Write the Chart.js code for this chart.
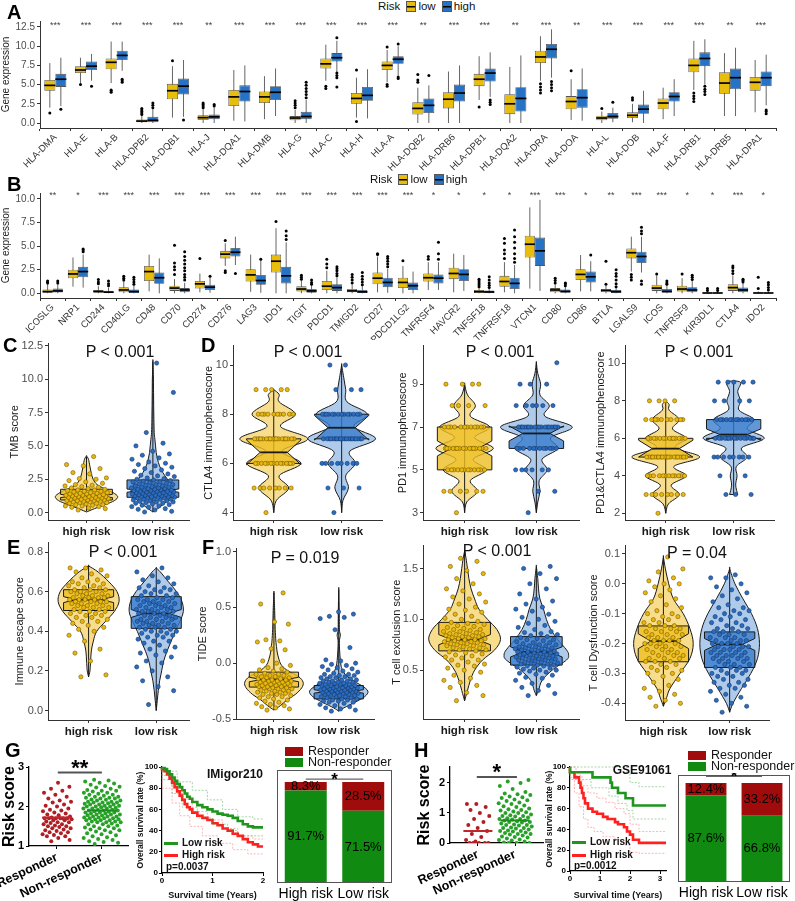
<!DOCTYPE html>
<html>
<head>
<meta charset="utf-8">
<script src="https://cdn.jsdelivr.net/npm/chart.js@4.4.1/dist/chart.umd.min.js"></script>
<style>
body{margin:0;background:#fff;}
#fig{position:relative;width:795px;height:901px;overflow:hidden;font-family:"Liberation Sans",Arial,Helvetica,sans-serif;color:#111;}
#charts{position:absolute;left:0;top:0;width:795px;height:901px;}
.t{position:absolute;white-space:nowrap;line-height:1;}
.lt{font-weight:bold;font-size:20px;color:#000;}
.p{font-size:16px;transform:translate(-50%,-50%);color:#111;}
.leg{font-size:11.5px;display:flex;align-items:center;gap:2px;color:#111;}
.key{display:inline-block;width:8px;height:9px;border:1px solid #555;margin-left:4px;}
.ky{background:linear-gradient(#000,#000) center/100% 1.5px no-repeat,#E9BD0B;}
.kb{background:linear-gradient(#000,#000) center/100% 1.5px no-repeat,#2672C4;}
.km{font-weight:bold;font-size:10px;color:#111;}
.ln{display:inline-block;width:14px;height:2.5px;vertical-align:middle;margin-right:4px;}
.kt{font-weight:bold;font-size:12px;transform:translate(-50%,-50%);}
.sl{font-size:12.5px;color:#111;}
.sw{display:inline-block;width:18px;height:9px;vertical-align:middle;margin-right:5px;}
</style>
</head>
<body>
<div id="fig">
<div id="charts"></div>
<div class="t lt" style="left:7px;top:2px">A</div>
<div class="t lt" style="left:7px;top:174px">B</div>
<div class="t lt" style="left:3px;top:335px">C</div>
<div class="t lt" style="left:201px;top:335px">D</div>
<div class="t lt" style="left:7px;top:537px">E</div>
<div class="t lt" style="left:202px;top:537px">F</div>
<div class="t lt" style="left:5px;top:740px">G</div>
<div class="t lt" style="left:414px;top:740px">H</div>

<div class="t leg" style="left:378px;top:1px">Risk<span class="key ky"></span>low<span class="key kb"></span>high</div>
<div class="t leg" style="left:370px;top:174px">Risk<span class="key ky"></span>low<span class="key kb"></span>high</div>

<div class="t p" style="left:120px;top:352px">P &lt; 0.001</div>
<div class="t p" style="left:308px;top:352px">P &lt; 0.001</div>
<div class="t p" style="left:500px;top:352px">P &lt; 0.001</div>
<div class="t p" style="left:699px;top:352px">P &lt; 0.001</div>
<div class="t p" style="left:123px;top:552px">P &lt; 0.001</div>
<div class="t p" style="left:305px;top:558px">P = 0.019</div>
<div class="t p" style="left:497px;top:551px">P &lt; 0.001</div>
<div class="t p" style="left:697px;top:553px">P = 0.04</div>

<div class="t kt" style="left:235px;top:774px">IMigor210</div>
<div class="t km" style="left:164px;top:838px"><span class="ln" style="background:#1e961e"></span>Low risk</div>
<div class="t km" style="left:164px;top:850px"><span class="ln" style="background:#ff2020"></span>High risk</div>
<div class="t km" style="left:166px;top:862px">p=0.0037</div>

<div class="t kt" style="left:642px;top:770px">GSE91061</div>
<div class="t km" style="left:572px;top:837px"><span class="ln" style="background:#1e961e"></span>Low risk</div>
<div class="t km" style="left:572px;top:850px"><span class="ln" style="background:#ff2020"></span>High risk</div>
<div class="t km" style="left:574px;top:861px">p=0.0012</div>

<div class="t sl" style="left:285px;top:745px"><span class="sw" style="background:#A00C0C"></span>Responder</div>
<div class="t sl" style="left:285px;top:756px"><span class="sw" style="background:#108A10"></span>Non-responder</div>
<div class="t sl" style="left:688px;top:749px"><span class="sw" style="background:#A00C0C"></span>Responder</div>
<div class="t sl" style="left:688px;top:760px"><span class="sw" style="background:#108A10"></span>Non-responder</div>
</div>

<script>
// ---------- data: panel A (HLA genes), stats = [min, q1, median, q3, max]
const aGenes = ['HLA-DMA','HLA-E','HLA-B','HLA-DPB2','HLA-DQB1','HLA-J','HLA-DQA1','HLA-DMB','HLA-G','HLA-C','HLA-H','HLA-A','HLA-DQB2','HLA-DRB6','HLA-DPB1','HLA-DQA2','HLA-DRA','HLA-DOA','HLA-L','HLA-DOB','HLA-F','HLA-DRB1','HLA-DRB5','HLA-DPA1'];
const aSig = ['***','***','***','***','***','**','***','***','***','***','***','***','**','***','***','**','***','**','***','***','***','***','**','***'];
const aLow = [[2.0,4.2,4.9,5.6,7.8],[5.2,6.5,6.9,7.4,8.5],[5.2,7.0,7.9,8.4,10.6],[0,0.1,0.25,0.45,1.0],[0.7,3.1,4.2,5.1,7.4],[0,0.4,0.7,1.0,1.8],[0.3,2.2,3.4,4.3,6.9],[0.5,2.6,3.4,4.1,6.1],[0,0.35,0.65,0.9,1.7],[5.5,7.1,7.7,8.4,10.2],[0.7,2.5,3.2,3.9,5.9],[5.3,6.9,7.5,8.0,9.5],[0,1.1,1.9,2.7,4.6],[0,1.9,3.1,4.0,6.7],[3.0,4.8,5.7,6.4,8.7],[0,1.15,2.5,3.75,7.3],[5.5,7.8,8.6,9.4,11.3],[0.4,1.8,2.8,3.5,5.7],[0,0.35,0.65,0.95,1.5],[0.1,0.65,1.0,1.4,2.5],[0.5,1.8,2.6,3.2,4.6],[4.3,6.6,7.5,8.4,10.7],[0.9,3.8,5.2,6.6,9.1],[1.4,4.2,5.3,6.0,8.2]];
const aLowOut = [[1.3],[5.0],[4.0,4.2,4.3],[1.1,1.3,1.5,1.7,1.9],[8.1],[2.0,2.2,2.4,2.6],[],[],[2.0,2.3,2.6,2.9],[4.5,4.8],[0.2,6.9],[4.8,5.0,9.9],[5.3,5.6,6.3],[],[2.1],[],[3.9,4.3,4.7,5.1],[6.8],[1.9],[3.0,3.3],[],[2.8,3.2,3.5,3.9],[],[]];
const aHigh = [[2.2,4.7,5.7,6.4,8.5],[5.5,6.9,7.4,8.0,9.0],[6.8,8.2,8.8,9.4,10.6],[0,0.1,0.35,0.8,1.8],[0.8,3.7,4.8,5.8,8.2],[0,0.5,0.8,1.1,2.0],[0.2,2.8,4.1,4.9,7.5],[0.9,3.0,4.0,4.8,7.1],[0,0.5,0.85,1.45,3.0],[6.5,8.0,8.5,9.1,10.7],[0.6,2.9,3.6,4.7,7.0],[6.2,7.7,8.3,8.7,10.0],[0,1.3,2.3,3.2,4.9],[0,2.8,3.9,5.0,7.5],[3.4,5.4,6.5,7.1,9.2],[0,1.5,3.2,4.65,8.8],[5.9,8.4,9.6,10.3,12.2],[0.3,2.0,3.3,4.4,7.1],[0.1,0.55,0.85,1.3,2.0],[0,1.2,1.8,2.4,4.2],[0.9,2.8,3.45,4.0,5.7],[5.0,7.4,8.4,9.2,10.9],[0.9,4.4,5.9,7.1,9.8],[2.3,4.8,5.9,6.7,8.9]];
const aHighOut = [[1.8],[4.8],[5.3,5.5,5.7],[2.0,2.3,2.6],[0.4],[2.2,2.4],[],[],[3.3,3.7,4.1,4.5,4.9,5.3],[4.7,5.9,6.2,6.5,11.1],[],[5.8,6.0,10.3],[6.2],[],[2.4,2.7,3.0],[],[4.2,4.6,5.0,5.4],[],[2.7],[],[],[3.7,4.1,4.4,4.8],[],[1.2,1.5,1.7]];
const aTicks = [0, 2.5, 5, 7.5, 10, 12.5];

// ---------- panel B (immune checkpoint genes)
const bGenes = ['ICOSLG','NRP1','CD244','CD40LG','CD48','CD70','CD274','CD276','LAG3','IDO1','TIGIT','PDCD1','TMIGD2','CD27','PDCD1LG2','TNFRSF4','HAVCR2','TNFSF18','TNFRSF18','VTCN1','CD80','CD86','BTLA','LGALS9','ICOS','TNFRSF9','KIR3DL1','CTLA4','IDO2'];
const bSig = ['**','*','***','***','***','***','***','***','***','***','***','***','***','***','***','*','*','*','*','***','***','*','**','***','***','*','*','***','*'];
const bLow = [[0,0.05,0.18,0.4,1.0],[0.7,1.6,2.05,2.5,3.8],[0,0.05,0.2,0.35,0.75],[0,0.1,0.35,0.65,1.3],[0.2,1.3,2.3,2.9,4.1],[0,0.25,0.55,0.8,1.5],[0.1,0.5,1.0,1.3,2.1],[2.9,3.7,4.15,4.5,5.3],[0.15,1.25,1.95,2.55,4.1],[0,2.2,3.4,4.1,6.9],[0,0.2,0.45,0.75,1.35],[0,0.35,0.75,1.3,2.4],[0,0.1,0.25,0.45,0.9],[0.1,0.95,1.6,2.2,3.9],[0,0.55,1.15,1.65,2.9],[0.35,1.25,1.65,2.1,3.3],[0.1,1.5,2.1,2.7,4.2],[0,0.02,0.17,0.35,0.55],[0.1,0.7,1.25,1.85,3.3],[0.5,3.8,5.2,6.1,9.1],[0,0.1,0.35,0.55,0.95],[0.2,1.4,2.0,2.55,4.05],[0,0.1,0.3,0.45,0.8],[2.3,3.7,4.3,4.75,6.0],[0,0.25,0.55,0.9,1.9],[0,0.2,0.45,0.8,1.6],[0,0,0.03,0.08,0.2],[0,0.25,0.6,0.95,1.9],[0,0,0.03,0.08,0.2]];
const bLowOut = [[1.1,1.2,1.3],[],[1.0,1.2,1.45],[1.4,1.6,1.8],[],[2.0,2.5,2.8,3.2,5.1],[3.7],[2.2,2.4,5.6],[],[7.6],[1.5,1.7,1.9],[2.7,3.1,3.6],[1.1,1.4,1.7,2.0],[4.1,4.2],[3.45],[3.6,3.9],[],[0.7,0.9,1.1,1.3,1.5],[3.7,4.2,4.6,5.3,5.8],[],[1.1,1.35,1.6],[],[0.95,3.4],[1.4,1.7,2.0],[2.05],[2.05],[0.3,0.5],[2.1,2.4,2.7,2.9],[0.5,1.7]];
const bHigh = [[0,0.08,0.25,0.5,1.0],[0.6,1.7,2.3,2.8,4.1],[0,0.02,0.12,0.28,0.6],[0,0.02,0.18,0.4,0.85],[0,1.0,1.65,2.2,3.7],[0,0.1,0.35,0.55,1.1],[0.05,0.35,0.65,0.9,1.7],[3.0,3.9,4.35,4.8,6.0],[0.05,0.9,1.35,1.95,3.5],[0,1.05,1.85,2.8,5.4],[0,0.05,0.25,0.45,0.85],[0,0.25,0.6,0.95,1.7],[0,0.02,0.15,0.35,0.8],[0.05,0.65,1.15,1.65,2.6],[0,0.35,0.8,1.15,2.3],[0.35,1.05,1.6,2.0,3.3],[0.25,1.3,2.0,2.55,4.05],[0,0.02,0.14,0.3,0.5],[0,0.45,1.05,1.65,3.0],[0.25,2.9,4.5,5.9,9.9],[0,0.05,0.2,0.4,0.75],[0.2,1.15,1.75,2.3,3.4],[0,0.02,0.17,0.35,0.6],[2.2,3.2,3.9,4.4,6.0],[0,0.05,0.2,0.45,0.85],[0,0.1,0.35,0.65,1.3],[0,0,0.03,0.08,0.2],[0,0.1,0.35,0.6,1.1],[0,0,0.03,0.08,0.2]];
const bHighOut = [[1.1,1.3],[4.4,4.6,4.7],[0.8,1.0,1.3],[0.95,1.2,1.45,1.7],[],[1.4,1.7,2.0,2.4,2.7,3.1,3.5,3.9,4.4],[1.8],[2.1],[3.6],[5.7,6.1,6.6],[0.95,1.15,1.4],[1.85,2.1,2.4,2.6,2.8],[0.9,1.2,1.5,1.8,2.2],[2.8,3.1,3.4,3.7,3.9],[],[3.6,4.2,5.4],[],[0.6,0.85,1.1,1.4,1.75],[3.3,3.7,4.2,4.8,5.4,6.0,6.7],[],[0.8,1.0,1.1],[4.05],[0.7,1.0,1.4,1.8,2.1,2.5],[0.95,1.3,6.3,6.6,7.0],[0.95,1.1,1.3],[1.45,1.7,1.9],[0.3,0.5],[1.2,1.35,1.5],[0.35,0.6,0.9,1.15]];
const bTicks = [0, 2.5, 5, 7.5, 10];

const riskLabels = ['high risk', 'low risk'];

// ---------- panel C (TMB score)
const cHighVals = [0.2,0.3,0.35,0.4,0.45,0.5,0.5,0.55,0.6,0.6,0.65,0.7,0.7,0.75,0.75,0.8,0.8,0.85,0.85,0.9,0.9,0.9,0.95,0.95,1.0,1.0,1.0,1.05,1.05,1.1,1.1,1.1,1.15,1.15,1.2,1.2,1.2,1.25,1.25,1.3,1.3,1.3,1.35,1.35,1.4,1.4,1.45,1.45,1.5,1.5,1.55,1.6,1.6,1.65,1.7,1.7,1.75,1.8,1.85,1.9,1.95,2.0,2.05,2.1,2.2,2.3,2.4,2.5,2.55,2.6,2.9,3.0,3.3,3.5,3.6,4.2];
const cLowVals = [0.05,0.1,0.2,0.25,0.3,0.4,0.45,0.5,0.55,0.6,0.65,0.7,0.7,0.75,0.8,0.8,0.85,0.9,0.9,0.95,1.0,1.0,1.0,1.05,1.1,1.1,1.1,1.15,1.15,1.2,1.2,1.2,1.25,1.25,1.3,1.3,1.3,1.35,1.35,1.4,1.4,1.4,1.45,1.45,1.5,1.5,1.5,1.55,1.55,1.6,1.6,1.6,1.65,1.65,1.7,1.7,1.7,1.75,1.75,1.8,1.8,1.85,1.85,1.9,1.9,1.95,2.0,2.0,2.05,2.1,2.1,2.15,2.2,2.25,2.3,2.3,2.35,2.4,2.45,2.5,2.55,2.6,2.7,2.75,2.8,2.9,3.0,3.1,3.2,3.3,3.4,3.5,3.6,3.7,3.8,4.0,4.1,4.3,4.4,4.6,5.0,5.2,6.0,9.0,11.2];
const cHighBox = [0.1, 0.95, 1.25, 1.75, 4.2];
const cLowBox = [0.05, 1.15, 1.65, 2.45, 11.3];
const cHighViolinY = [0.05,0.3,0.6,0.9,1.2,1.5,1.8,2.1,2.5,3.0,3.5,4.0,4.25];
const cHighViolinW = [0,0.12,0.28,0.42,0.47,0.4,0.27,0.16,0.1,0.07,0.05,0.03,0];
const cLowViolinY = [0.05,0.4,0.8,1.2,1.6,2.0,2.5,3.0,3.5,4.0,4.5,5.0,5.5,6.0,7.0,8.0,9.0,10.0,11.3];
const cLowViolinW = [0,0.1,0.2,0.3,0.33,0.3,0.22,0.15,0.1,0.07,0.05,0.04,0.03,0.02,0.015,0.012,0.01,0.008,0];

// ---------- panel D (immunophenoscores): score levels and point counts
const d1HighLevels = [4,5,6,7,8,9], d1HighCounts = [1,8,14,18,10,5];
const d1LowLevels = [4,5,6,7,8,9,10], d1LowCounts = [1,3,8,20,14,3,2];
const d1HighBox = [4,6,6.45,7,9], d1LowBox = [4,7,7.45,8,10];
const d1HighViolinY = [4,4.5,5,5.5,6,6.5,7,7.5,8,8.5,8.8,9];
const d1HighViolinW = [0,0.04,0.22,0.08,0.4,0.12,0.5,0.1,0.32,0.08,0.08,0];
const d1LowViolinY = [4,4.5,5,5.5,6,6.5,7,7.5,8,8.5,9,9.5,10];
const d1LowViolinW = [0,0.02,0.1,0.06,0.2,0.12,0.5,0.18,0.38,0.08,0.06,0.03,0];

const d2HighLevels = [3,4,5,6,7,8,9], d2HighCounts = [1,6,12,16,12,4,4];
const d2LowLevels = [3,4,5,6,7,8,9,10], d2LowCounts = [1,2,6,12,18,6,3,1];
const d2HighBox = [3,5,6,7,9], d2LowBox = [3,6,6.7,7,10];
const d2HighViolinY = [3,3.5,4,4.5,5,5.5,6,6.5,7,7.5,8,8.5,9];
const d2HighViolinW = [0,0.03,0.18,0.08,0.3,0.12,0.4,0.14,0.35,0.08,0.15,0.04,0];
const d2LowViolinY = [3,3.5,4,4.5,5,5.5,6,6.5,7,7.5,8,8.5,9,9.5,10];
const d2LowViolinW = [0,0.02,0.05,0.04,0.15,0.08,0.3,0.2,0.5,0.12,0.18,0.05,0.06,0.02,0];

const d3HighLevels = [2,3,4,5,6,7,8], d3HighCounts = [1,8,12,20,14,10,4];
const d3LowLevels = [3,4,5,6,7,8,9], d3LowCounts = [3,2,8,15,12,4,5];
const d3HighBox = [2,5,5.45,6,8], d3LowBox = [3,6,6.2,7,9];
const d3HighViolinY = [2,2.5,3,3.5,4,4.5,5,5.5,6,6.5,7,7.5,7.8,8];
const d3HighViolinW = [0,0.04,0.2,0.08,0.3,0.12,0.5,0.14,0.3,0.1,0.2,0.05,0.05,0];
const d3LowViolinY = [3,3.5,4,4.5,5,5.5,6,6.5,7,7.5,8,8.5,9];
const d3LowViolinW = [0.06,0.03,0.05,0.04,0.2,0.12,0.45,0.2,0.3,0.08,0.1,0.06,0.1];

// ---------- panel E (immune escape score)
const eHighVals = [0.17,0.18,0.25,0.29,0.31,0.35,0.38,0.4,0.41,0.42,0.43,0.44,0.45,0.45,0.46,0.47,0.47,0.48,0.48,0.49,0.49,0.5,0.5,0.5,0.51,0.51,0.52,0.52,0.52,0.53,0.53,0.53,0.54,0.54,0.54,0.55,0.55,0.55,0.55,0.56,0.56,0.56,0.56,0.57,0.57,0.57,0.57,0.58,0.58,0.58,0.59,0.59,0.59,0.6,0.6,0.6,0.61,0.61,0.61,0.62,0.62,0.63,0.63,0.64,0.64,0.65,0.65,0.66,0.67,0.68,0.69,0.7,0.71,0.72,0.72];
const eLowVals = [0.03,0.1,0.12,0.15,0.17,0.2,0.22,0.24,0.25,0.27,0.28,0.29,0.3,0.31,0.32,0.33,0.34,0.35,0.35,0.36,0.37,0.37,0.38,0.38,0.39,0.39,0.4,0.4,0.4,0.41,0.41,0.42,0.42,0.42,0.43,0.43,0.43,0.44,0.44,0.44,0.45,0.45,0.45,0.46,0.46,0.46,0.47,0.47,0.47,0.48,0.48,0.48,0.49,0.49,0.49,0.5,0.5,0.5,0.5,0.51,0.51,0.51,0.52,0.52,0.52,0.53,0.53,0.53,0.54,0.54,0.54,0.55,0.55,0.55,0.56,0.56,0.56,0.57,0.57,0.58,0.58,0.59,0.59,0.6,0.6,0.61,0.61,0.62,0.62,0.63,0.64,0.65,0.66,0.67,0.68,0.7,0.72];
const eHighBox = [0.17,0.505,0.56,0.61,0.73], eLowBox = [0.0,0.415,0.49,0.575,0.72];
const eHighViolinY = [0.17,0.2,0.25,0.3,0.35,0.4,0.45,0.5,0.55,0.6,0.65,0.7,0.73];
const eHighViolinW = [0,0.02,0.03,0.04,0.07,0.12,0.25,0.38,0.45,0.42,0.3,0.14,0];
const eLowViolinY = [0,0.05,0.1,0.15,0.2,0.25,0.3,0.35,0.4,0.45,0.5,0.55,0.6,0.65,0.7,0.72];
const eLowViolinW = [0,0.015,0.03,0.05,0.08,0.11,0.16,0.22,0.28,0.35,0.4,0.38,0.3,0.18,0.06,0];

// ---------- panel F (TIDE, T cell exclusion, T cell dysfunction)
const f1HighVals = [-0.42,-0.41,-0.4,-0.39,-0.38,-0.37,-0.36,-0.35,-0.34,-0.33,-0.32,-0.31,-0.3,-0.3,-0.29,-0.28,-0.28,-0.27,-0.27,-0.26,-0.26,-0.25,-0.25,-0.25,-0.24,-0.24,-0.23,-0.23,-0.23,-0.22,-0.22,-0.22,-0.21,-0.21,-0.21,-0.2,-0.2,-0.2,-0.19,-0.19,-0.19,-0.18,-0.18,-0.18,-0.17,-0.17,-0.17,-0.16,-0.16,-0.16,-0.15,-0.15,-0.15,-0.14,-0.14,-0.13,-0.13,-0.12,-0.12,-0.11,-0.11,-0.1,-0.1,-0.09,-0.08,-0.07,-0.06,-0.05,-0.04,-0.02,0.0,0.02,0.12,0.13,0.19,0.2,0.21,0.35,0.37,0.53,0.63];
const f1LowVals = [-0.43,-0.42,-0.41,-0.4,-0.39,-0.38,-0.37,-0.36,-0.35,-0.35,-0.34,-0.34,-0.33,-0.33,-0.32,-0.32,-0.31,-0.31,-0.3,-0.3,-0.3,-0.29,-0.29,-0.29,-0.28,-0.28,-0.28,-0.27,-0.27,-0.27,-0.26,-0.26,-0.26,-0.26,-0.25,-0.25,-0.25,-0.25,-0.24,-0.24,-0.24,-0.24,-0.23,-0.23,-0.23,-0.23,-0.22,-0.22,-0.22,-0.22,-0.21,-0.21,-0.21,-0.2,-0.2,-0.2,-0.2,-0.19,-0.19,-0.19,-0.18,-0.18,-0.18,-0.17,-0.17,-0.17,-0.16,-0.16,-0.16,-0.15,-0.15,-0.14,-0.14,-0.13,-0.13,-0.12,-0.12,-0.11,-0.11,-0.1,-0.1,-0.09,-0.08,-0.07,-0.06,-0.05,-0.04,-0.03,-0.02,-0.01,0.0,0.02,0.03,0.14,0.3,0.4,0.41,0.42,0.44,0.46];
const f1HighBox = [-0.42,-0.214,-0.146,-0.08,0.63], f1LowBox = [-0.43,-0.32,-0.253,-0.2,0.66];
const f1HighViolinY = [-0.42,-0.38,-0.33,-0.28,-0.22,-0.17,-0.12,-0.07,-0.02,0.03,0.1,0.15,0.2,0.3,0.4,0.5,0.63];
const f1HighViolinW = [0,0.1,0.2,0.33,0.43,0.45,0.38,0.22,0.12,0.08,0.05,0.04,0.03,0.02,0.015,0.01,0];
const f1LowViolinY = [-0.43,-0.4,-0.35,-0.3,-0.25,-0.2,-0.15,-0.1,-0.05,0,0.1,0.2,0.25,0.3,0.4,0.5,0.66];
const f1LowViolinW = [0,0.08,0.25,0.4,0.45,0.35,0.2,0.1,0.05,0.03,0.015,0.01,0.025,0.01,0.008,0.006,0];

const f2HighVals = [0.2,0.25,0.28,0.33,0.35,0.38,0.4,0.42,0.45,0.48,0.5,0.52,0.54,0.55,0.56,0.58,0.6,0.6,0.62,0.63,0.64,0.65,0.66,0.67,0.68,0.69,0.7,0.7,0.71,0.72,0.72,0.73,0.74,0.74,0.75,0.75,0.76,0.76,0.77,0.77,0.78,0.78,0.79,0.79,0.8,0.8,0.8,0.81,0.81,0.82,0.82,0.83,0.83,0.84,0.84,0.85,0.85,0.86,0.86,0.87,0.88,0.88,0.89,0.9,0.9,0.91,0.92,0.93,0.94,0.95,0.96,0.97,0.98,1.0,1.01,1.03,1.05,1.07,1.09,1.1,1.12,1.15,1.17,1.2,1.22,1.25,1.28,1.3,1.35,1.4,1.45,1.48,1.52,1.57,1.6];
const f2LowVals = [0.25,0.27,0.3,0.33,0.35,0.37,0.4,0.42,0.43,0.45,0.46,0.47,0.48,0.49,0.5,0.5,0.51,0.52,0.52,0.53,0.54,0.54,0.55,0.55,0.56,0.56,0.57,0.57,0.58,0.58,0.59,0.59,0.6,0.6,0.6,0.61,0.61,0.62,0.62,0.62,0.63,0.63,0.64,0.64,0.64,0.65,0.65,0.65,0.66,0.66,0.66,0.67,0.67,0.68,0.68,0.68,0.69,0.69,0.7,0.7,0.7,0.71,0.71,0.72,0.72,0.73,0.73,0.74,0.74,0.75,0.75,0.76,0.77,0.77,0.78,0.79,0.8,0.8,0.81,0.82,0.83,0.84,0.85,0.86,0.87,0.88,0.9,0.92,0.94,0.96,0.98,1.0,1.02,1.05,1.08,1.1,1.12,1.15,1.18,1.2,1.25,1.3,1.35,1.4,1.45,1.5,1.52];
const f2HighBox = [0.2,0.69,0.8,0.97,1.67], f2LowBox = [0.25,0.55,0.68,0.83,1.52];
const f2HighViolinY = [0.2,0.3,0.4,0.5,0.6,0.7,0.8,0.9,1.0,1.1,1.2,1.3,1.4,1.5,1.6,1.67];
const f2HighViolinW = [0,0.04,0.08,0.14,0.25,0.42,0.5,0.45,0.32,0.2,0.14,0.09,0.06,0.04,0.02,0];
const f2LowViolinY = [0.25,0.3,0.4,0.5,0.6,0.65,0.7,0.8,0.9,1.0,1.1,1.2,1.3,1.4,1.52];
const f2LowViolinW = [0,0.03,0.08,0.22,0.42,0.45,0.42,0.3,0.2,0.14,0.1,0.05,0.03,0.02,0];

const f3HighVals = [-0.41,-0.4,-0.39,-0.38,-0.37,-0.36,-0.35,-0.34,-0.33,-0.32,-0.31,-0.3,-0.3,-0.29,-0.29,-0.28,-0.28,-0.27,-0.27,-0.26,-0.26,-0.26,-0.25,-0.25,-0.25,-0.24,-0.24,-0.24,-0.23,-0.23,-0.23,-0.22,-0.22,-0.22,-0.21,-0.21,-0.21,-0.2,-0.2,-0.2,-0.2,-0.19,-0.19,-0.19,-0.19,-0.18,-0.18,-0.18,-0.17,-0.17,-0.17,-0.16,-0.16,-0.16,-0.15,-0.15,-0.15,-0.14,-0.14,-0.14,-0.13,-0.13,-0.12,-0.12,-0.11,-0.11,-0.1,-0.1,-0.09,-0.08,-0.07,-0.06,-0.05,-0.04,-0.03,-0.02,-0.01,0.0,0.0,0.01,0.02,0.04,0.05,0.09];
const f3LowVals = [-0.43,-0.41,-0.4,-0.39,-0.38,-0.37,-0.36,-0.35,-0.35,-0.34,-0.34,-0.33,-0.33,-0.32,-0.32,-0.31,-0.31,-0.3,-0.3,-0.3,-0.29,-0.29,-0.29,-0.28,-0.28,-0.28,-0.27,-0.27,-0.27,-0.26,-0.26,-0.26,-0.25,-0.25,-0.25,-0.25,-0.24,-0.24,-0.24,-0.24,-0.23,-0.23,-0.23,-0.23,-0.22,-0.22,-0.22,-0.22,-0.21,-0.21,-0.21,-0.21,-0.2,-0.2,-0.2,-0.2,-0.19,-0.19,-0.19,-0.19,-0.18,-0.18,-0.18,-0.17,-0.17,-0.17,-0.16,-0.16,-0.16,-0.15,-0.15,-0.15,-0.14,-0.14,-0.13,-0.13,-0.12,-0.12,-0.11,-0.11,-0.1,-0.1,-0.09,-0.09,-0.08,-0.08,-0.07,-0.06,-0.05,-0.04,-0.03,-0.02,-0.01,0.0,0.02,0.02,0.03];
const f3HighBox = [-0.41,-0.261,-0.192,-0.141,0.09], f3LowBox = [-0.43,-0.28,-0.203,-0.161,0.05];
const f3HighViolinY = [-0.41,-0.38,-0.35,-0.3,-0.25,-0.2,-0.15,-0.1,-0.05,0,0.05,0.09];
const f3HighViolinW = [0,0.05,0.1,0.25,0.4,0.45,0.4,0.3,0.15,0.08,0.03,0];
const f3LowViolinY = [-0.43,-0.4,-0.35,-0.3,-0.25,-0.2,-0.15,-0.1,-0.05,0,0.05];
const f3LowViolinW = [0,0.05,0.18,0.32,0.42,0.45,0.42,0.33,0.2,0.08,0];

// ---------- panel G / H (immunotherapy cohorts)
const respLabels = ['Responder', 'Non-responder'];
const gResp = [1.12,1.15,1.2,1.25,1.25,1.28,1.3,1.32,1.35,1.35,1.38,1.4,1.42,1.45,1.45,1.48,1.5,1.5,1.52,1.55,1.55,1.58,1.6,1.6,1.62,1.65,1.65,1.68,1.7,1.7,1.7,1.7,1.7,1.7,1.72,1.75,1.78,1.8,1.82,1.85,1.88,1.9,1.92,1.95,2.0,2.02,2.05,2.1,2.12,2.15,2.2,2.25,2.3,2.35,2.4,2.45,2.5,2.6];
const gNonResp = [1.05,1.08,1.1,1.12,1.15,1.18,1.2,1.22,1.25,1.27,1.3,1.32,1.35,1.37,1.4,1.4,1.42,1.45,1.45,1.47,1.5,1.5,1.52,1.55,1.55,1.57,1.6,1.6,1.6,1.62,1.62,1.65,1.65,1.65,1.67,1.68,1.7,1.7,1.7,1.72,1.72,1.75,1.75,1.75,1.77,1.78,1.8,1.8,1.8,1.82,1.82,1.85,1.85,1.85,1.87,1.88,1.9,1.9,1.9,1.92,1.92,1.95,1.95,1.95,1.97,1.98,2.0,2.0,2.0,2.02,2.02,2.05,2.05,2.05,2.07,2.08,2.1,2.1,2.1,2.12,2.12,2.15,2.15,2.17,2.18,2.2,2.2,2.22,2.22,2.25,2.25,2.27,2.3,2.3,2.32,2.35,2.35,2.38,2.4,2.4,2.42,2.45,2.48,2.5,2.52,2.55,2.58,2.6,2.63,2.66,2.68];
const gMedians = [1.72, 1.9];
const hResp = [0,0,0,0,0,0.05,0.1,0.2,0.3,0.4,0.5,0.6,0.7,0.8,0.9,1.0,1.1,1.2,1.3,1.3];
const hNonResp = [0,0,0,0.02,0.05,0.08,0.1,0.12,0.15,0.18,0.2,0.22,0.25,0.28,0.3,0.3,0.33,0.35,0.38,0.4,0.4,0.42,0.45,0.48,0.5,0.5,0.52,0.55,0.58,0.6,0.6,0.62,0.65,0.68,0.7,0.7,0.72,0.75,0.75,0.78,0.8,0.8,0.82,0.85,0.88,0.9,0.9,0.92,0.95,1.0,1.0,1.02,1.05,1.08,1.1,1.12,1.15,1.2,1.22,1.25,1.3,1.32,1.35,1.4,1.42,1.45,1.5,1.52,1.55,1.6,1.62,1.65,1.7,1.8,1.9,2.0,2.05,2.1];
const hMedians = [0.4, 0.75];

// Kaplan-Meier curves: [years, survival %]
const g2Low = [[0,100],[0.05,99],[0.1,98],[0.15,96],[0.2,93],[0.25,90],[0.3,87],[0.35,84],[0.4,81],[0.45,78],[0.5,75],[0.55,72],[0.6,70],[0.7,67],[0.8,64],[0.9,62],[1.0,60],[1.1,58],[1.2,56],[1.3,55],[1.4,54],[1.5,52],[1.6,49],[1.7,46],[1.8,44],[1.9,43],[2.0,43]];
const g2High = [[0,100],[0.05,98],[0.1,96],[0.15,93],[0.2,89],[0.25,85],[0.3,81],[0.35,77],[0.4,73],[0.45,69],[0.5,65],[0.55,62],[0.6,60],[0.7,57],[0.8,54],[0.9,52],[1.0,50],[1.1,47],[1.2,45],[1.3,42],[1.4,40],[1.5,37],[1.6,35],[1.7,32],[1.8,29],[1.9,27],[2.0,25]];
const g2LowUp = [[0,100],[0.3,96],[0.6,86],[0.9,78],[1.2,69],[1.5,60],[1.8,53],[2.0,51]];
const g2LowDn = [[0,100],[0.2,88],[0.4,75],[0.7,62],[1.0,52],[1.3,46],[1.5,40],[1.8,35],[2.0,35]];
const g2HighUp = [[0,100],[0.2,92],[0.4,80],[0.6,70],[0.9,58],[1.2,50],[1.5,42],[1.8,35],[2.0,32]];
const g2HighDn = [[0,100],[0.2,80],[0.35,66],[0.55,54],[0.8,44],[1.1,35],[1.4,28],[1.7,22],[2.0,18]];
const h2Low = [[0,100],[0.75,95],[1.35,90],[1.4,85],[1.6,80],[1.85,75],[2.1,70],[2.35,63],[3.2,63]];
const h2High = [[0,100],[0.15,95],[0.3,90],[0.35,85],[0.4,80],[0.45,75],[0.5,70],[0.6,65],[0.75,60],[0.9,57],[1.1,55],[1.25,52],[1.5,50],[1.6,47],[1.8,45],[1.9,42],[2.0,38],[2.1,35],[2.3,30],[2.35,27],[3.2,27]];
const h2LowUp = [[0,100],[1.9,100],[2.0,95],[2.3,85],[2.4,81],[3.2,81]];
const h2LowDn = [[0,100],[0.7,88],[1.3,80],[1.6,72],[1.9,65],[2.1,58],[2.35,50],[3.2,50]];
const h2HighUp = [[0,100],[0.2,100],[0.4,92],[0.6,82],[0.9,75],[1.2,70],[1.5,66],[1.8,60],[2.0,55],[2.3,45],[2.4,38],[3.2,38]];
const h2HighDn = [[0,100],[0.15,90],[0.3,75],[0.45,62],[0.6,50],[0.8,42],[1.1,38],[1.5,33],[1.8,30],[2.0,25],[2.3,18],[3.2,17]];
const kmTicksY = [0,20,40,60,80,100];

// stacked response proportions (%)
const groupLabels = ['High risk', 'Low risk'];
const gRespPct = [8.3, 28.5], gNonPct = [91.7, 71.5];
const hRespPct = [12.4, 33.2], hNonPct = [87.6, 66.8];

// ---------- helpers
Chart.defaults.font.family = '"Liberation Sans", Arial, Helvetica, sans-serif';
Chart.defaults.color = '#4d4d4d';
const FONT = '"Liberation Sans", Arial, Helvetica, sans-serif';
const YEL = '#E9BD0B', BLU = '#2672C4';
const holder = document.getElementById('charts');

const jit = i => ((i * 0.6180339887 + 0.31) % 1) * 2 - 1;
const expand = (lv, ct) => lv.flatMap((v, i) => Array(ct[i]).fill(v));
const tickGrid = (c) => ({display: true, drawOnChartArea: false, drawTicks: true, tickLength: 3, color: c || '#333', lineWidth: 1});
const border = (c, w) => ({display: true, color: c || '#333', width: w || 1});
const fixTicks = list => s => { s.ticks = list.map(v => ({value: v})); };

function mk(area, m, cfg) {
  const [l, t, r, b] = area;
  const w = r - l + m.axW + m.pr, h = b - t + m.pt + m.axH;
  const cv = document.createElement('canvas');
  cv.width = w; cv.height = h;
  cv.style.cssText = 'position:absolute;left:' + (l - m.axW) + 'px;top:' + (t - m.pt) + 'px;width:' + w + 'px;height:' + h + 'px';
  holder.appendChild(cv);
  const o = cfg.options;
  o.responsive = false; o.animation = false; o.events = []; o.devicePixelRatio = 1;
  o.layout = {padding: {top: m.pt, right: m.pr, bottom: 0, left: o.scales.y.display === false ? m.axW : 0}};
  o.scales.x.afterFit = s => { s.height = m.axH; s.paddingLeft = 0; s.paddingRight = 0; };
  o.scales.y.afterFit = s => { s.width = m.axW; s.paddingTop = 0; s.paddingBottom = 0; };
  o.plugins = Object.assign({legend: {display: false}, tooltip: {enabled: false}}, o.plugins || {});
  return new Chart(cv, cfg);
}

// ---------- boxplots (A, B)
const boxPlugin = {
  id: 'boxes',
  beforeDatasetsDraw(chart) {
    const {ctx} = chart, y = chart.scales.y;
    ctx.save(); ctx.strokeStyle = '#555'; ctx.lineWidth = 0.9;
    chart.data.datasets.forEach((ds, di) => {
      chart.getDatasetMeta(di).data.forEach((bar, i) => {
        const s = ds.stats[i];
        ctx.beginPath();
        ctx.moveTo(bar.x, y.getPixelForValue(s[0])); ctx.lineTo(bar.x, y.getPixelForValue(s[4]));
        ctx.stroke();
      });
    });
    ctx.restore();
  },
  afterDatasetsDraw(chart, args, opts) {
    const {ctx} = chart, y = chart.scales.y, x = chart.scales.x;
    ctx.save();
    chart.data.datasets.forEach((ds, di) => {
      chart.getDatasetMeta(di).data.forEach((bar, i) => {
        const s = ds.stats[i], hw = bar.width / 2;
        ctx.strokeStyle = '#000'; ctx.lineWidth = 1.7;
        ctx.beginPath();
        ctx.moveTo(bar.x - hw, y.getPixelForValue(s[2])); ctx.lineTo(bar.x + hw, y.getPixelForValue(s[2]));
        ctx.stroke();
        ctx.fillStyle = '#000';
        ds.out[i].forEach(v => {
          ctx.beginPath(); ctx.arc(bar.x, y.getPixelForValue(v), 1.5, 0, Math.PI * 2); ctx.fill();
        });
      });
    });
    ctx.fillStyle = '#444'; ctx.font = '9px ' + FONT; ctx.textAlign = 'center'; ctx.textBaseline = 'middle';
    opts.sig.forEach((t, i) => ctx.fillText(t, x.getPixelForValue(i), y.getPixelForValue(opts.starY)));
    ctx.restore();
  }
};

function boxChart(area, m, genes, lowS, lowO, highS, highO, sig, yMin, yMax, yTicks, starY, catPct) {
  const ds = (stats, out, col) => ({data: stats.map(s => [s[1], s[3]]), stats, out, backgroundColor: col,
    borderColor: '#555', borderWidth: 0.8, borderSkipped: false, categoryPercentage: catPct, barPercentage: 1});
  return mk(area, m, {
    type: 'bar',
    data: {labels: genes, datasets: [ds(lowS, lowO, YEL), ds(highS, highO, BLU)]},
    options: {
      scales: {
        x: {type: 'category', offset: true, grid: tickGrid(), border: border(),
            ticks: {autoSkip: false, minRotation: 45, maxRotation: 45, padding: 1, color: '#333', font: {size: 9.5}}},
        y: {type: 'linear', min: yMin, max: yMax, afterBuildTicks: fixTicks(yTicks), grid: tickGrid(), border: border(),
            ticks: {autoSkip: false, padding: 2, color: '#4d4d4d', font: {size: 10}, callback: v => v.toFixed(1)},
            title: {display: true, text: 'Gene expression', color: '#1a1a1a', font: {size: 10}, padding: {top: 0, bottom: 1}}}
      },
      plugins: {boxes: {sig, starY}}
    },
    plugins: [boxPlugin]
  });
}

boxChart([40, 21, 776, 128], {axW: 40, axH: 47, pt: 6, pr: 19}, aGenes, aLow, aLowOut, aHigh, aHighOut, aSig, -0.65, 13.28, aTicks, 12.75, 0.72);
boxChart([40, 193, 776, 298], {axW: 40, axH: 42, pt: 5, pr: 19}, bGenes, bLow, bLowOut, bHigh, bHighOut, bSig, -0.5, 10.63, bTicks, 10.35, 0.8);

// ---------- violins (C, D, E, F)
function smooth(ctx, pts) {
  ctx.moveTo(pts[0][0], pts[0][1]);
  for (let i = 0; i < pts.length - 1; i++) {
    const p0 = pts[Math.max(i - 1, 0)], p1 = pts[i], p2 = pts[i + 1], p3 = pts[Math.min(i + 2, pts.length - 1)];
    ctx.bezierCurveTo(p1[0] + (p2[0] - p0[0]) / 6, p1[1] + (p2[1] - p0[1]) / 6,
                      p2[0] - (p3[0] - p1[0]) / 6, p2[1] - (p3[1] - p1[1]) / 6, p2[0], p2[1]);
  }
}

const violinPlugin = {
  id: 'violin',
  beforeDatasetsDraw(chart) {
    const {ctx} = chart, x = chart.scales.x, y = chart.scales.y;
    const px = v => x.getPixelForValue(v), py = v => y.getPixelForValue(v);
    chart.data.datasets.forEach(ds => {
      const g = ds.vio;
      const right = g.ys.map((v, i) => [px(g.c + g.ws[i]), py(v)]);
      const left = g.ys.map((v, i) => [px(g.c - g.ws[i]), py(v)]).reverse();
      ctx.save();
      ctx.strokeStyle = '#1a1a1a'; ctx.lineWidth = 1;
      ctx.beginPath(); smooth(ctx, right.concat(left)); ctx.closePath();
      ctx.fillStyle = g.light; ctx.fill(); ctx.stroke();
      const [lo, q1, md, q3, hi] = g.box, n = g.n;
      const xl = px(g.c - g.bw), xr = px(g.c + g.bw), xli = px(g.c - g.bw / 2), xri = px(g.c + g.bw / 2), xc = px(g.c);
      ctx.beginPath(); ctx.moveTo(xc, py(lo)); ctx.lineTo(xc, py(hi)); ctx.stroke();
      ctx.beginPath();
      ctx.moveTo(xl, py(q1)); ctx.lineTo(xl, py(md - n)); ctx.lineTo(xli, py(md)); ctx.lineTo(xl, py(md + n)); ctx.lineTo(xl, py(q3));
      ctx.lineTo(xr, py(q3)); ctx.lineTo(xr, py(md + n)); ctx.lineTo(xri, py(md)); ctx.lineTo(xr, py(md - n)); ctx.lineTo(xr, py(q1));
      ctx.closePath();
      ctx.fillStyle = g.mid; ctx.fill(); ctx.stroke();
      ctx.lineWidth = 1.8; ctx.beginPath(); ctx.moveTo(xli, py(md)); ctx.lineTo(xri, py(md)); ctx.stroke();
      ctx.restore();
    });
  }
};

const yelStyle = {light: '#F8DE8C', mid: 'rgba(238,190,35,0.8)', pt: '#E9B80C', edge: '#7a5c00'};
const bluStyle = {light: '#AFCBEC', mid: 'rgba(52,122,204,0.78)', pt: '#2B6CC0', edge: '#163a6c'};

function violinChart(area, m, xr, yr, yTicks, dec, title, groups) {
  const datasets = groups.map(g => ({
    data: g.vals.map((v, i) => ({x: g.c + jit(i) * g.jw, y: v})),
    pointRadius: 2.1, pointBackgroundColor: g.st.pt, pointBorderColor: g.st.edge, pointBorderWidth: 0.6,
    vio: Object.assign({light: g.st.light, mid: g.st.mid}, g)
  }));
  return mk(area, m, {
    type: 'scatter',
    data: {datasets},
    options: {
      scales: {
        x: {type: 'linear', min: xr[0], max: xr[1], afterBuildTicks: fixTicks([1, 2]), grid: tickGrid(), border: border(),
            ticks: {autoSkip: false, maxRotation: 0, padding: 2, color: '#1a1a1a', font: {size: 11.5, weight: 'bold'}, callback: v => riskLabels[v - 1]}},
        y: {type: 'linear', min: yr[0], max: yr[1], afterBuildTicks: fixTicks(yTicks), grid: tickGrid(), border: border(),
            ticks: {autoSkip: false, padding: 2, color: '#4d4d4d', font: {size: 11}, callback: v => dec == null ? String(v) : v.toFixed(dec)},
            title: {display: true, text: title, color: '#1a1a1a', font: {size: 11}, padding: {top: 0, bottom: 2}}}
      }
    },
    plugins: [violinPlugin]
  });
}

const grp = (c, st, vals, box, n, bw, ys, ws, jw) => ({c, st, vals, box, n, bw, ys, ws, jw});

violinChart([48, 343, 190, 520], {axW: 40, axH: 22, pt: 4, pr: 4}, [0.42, 2.55], [-0.55, 12.66], [0, 2.5, 5, 7.5, 10, 12.5], 1, 'TMB score', [
  grp(1, yelStyle, cHighVals, cHighBox, 0.12, 0.39, cHighViolinY, cHighViolinW, 0.33),
  grp(2, bluStyle, cLowVals, cLowBox, 0.12, 0.39, cLowViolinY, cLowViolinW, 0.33)]);
violinChart([233, 345, 383, 520], {axW: 31, axH: 22, pt: 4, pr: 4}, [0.4, 2.6], [3.7, 10.79], [4, 6, 8, 10], null, 'CTLA4 immunophenoscore', [
  grp(1, yelStyle, expand(d1HighLevels, d1HighCounts), d1HighBox, 0.5, 0.4, d1HighViolinY, d1HighViolinW, 0.3),
  grp(2, bluStyle, expand(d1LowLevels, d1LowCounts), d1LowBox, 0.5, 0.4, d1LowViolinY, d1LowViolinW, 0.3)]);
violinChart([423, 345, 580, 520], {axW: 27, axH: 22, pt: 4, pr: 4}, [0.42, 2.6], [2.66, 10.8], [3, 5, 7, 9], null, 'PD1 immunophenoscore', [
  grp(1, yelStyle, expand(d2HighLevels, d2HighCounts), d2HighBox, 0.35, 0.38, d2HighViolinY, d2HighViolinW, 0.3),
  grp(2, bluStyle, expand(d2LowLevels, d2LowCounts), d2LowBox, 0.35, 0.38, d2LowViolinY, d2LowViolinW, 0.3)]);
violinChart([625, 345, 775, 520], {axW: 31, axH: 22, pt: 4, pr: 4}, [0.4, 2.6], [1.64, 10.95], [2, 4, 6, 8, 10], null, 'PD1&CTLA4 immunophenoscore', [
  grp(1, yelStyle, expand(d3HighLevels, d3HighCounts), d3HighBox, 0.45, 0.4, d3HighViolinY, d3HighViolinW, 0.3),
  grp(2, bluStyle, expand(d3LowLevels, d3LowCounts), d3LowBox, 0.3, 0.4, d3LowViolinY, d3LowViolinW, 0.3)]);
violinChart([48, 542, 190, 720], {axW: 35, axH: 22, pt: 4, pr: 4}, [0.4, 2.49], [-0.048, 0.848], [0, 0.2, 0.4, 0.6, 0.8], 1, 'Immune escape score', [
  grp(1, yelStyle, eHighVals, eHighBox, 0.015, 0.37, eHighViolinY, eHighViolinW, 0.3),
  grp(2, bluStyle, eLowVals, eLowBox, 0.02, 0.37, eLowViolinY, eLowViolinW, 0.3)]);
violinChart([236, 548, 375, 719], {axW: 40, axH: 22, pt: 4, pr: 4}, [0.415, 2.55], [-0.5, 1.027], [-0.5, 0, 0.5, 1], 1, 'TIDE score', [
  grp(1, yelStyle, f1HighVals, f1HighBox, 0.02, 0.38, f1HighViolinY, f1HighViolinW, 0.28),
  grp(2, bluStyle, f1LowVals, f1LowBox, 0.015, 0.38, f1LowViolinY, f1LowViolinW, 0.3)]);
violinChart([423, 545, 580, 719], {axW: 33, axH: 22, pt: 4, pr: 4}, [0.42, 2.6], [0.02, 1.725], [0.5, 1, 1.5], 1, 'T cell exclusion score', [
  grp(1, yelStyle, f2HighVals, f2HighBox, 0.05, 0.36, f2HighViolinY, f2HighViolinW, 0.3),
  grp(2, bluStyle, f2LowVals, f2LowBox, 0.05, 0.36, f2LowViolinY, f2LowViolinW, 0.3)]);
violinChart([625, 545, 770, 720], {axW: 38, axH: 22, pt: 4, pr: 4}, [0.42, 2.6], [-0.456, 0.128], [-0.4, -0.3, -0.2, -0.1, 0, 0.1], 1, 'T cell Dysfunction score', [
  grp(1, yelStyle, f3HighVals, f3HighBox, 0.025, 0.38, f3HighViolinY, f3HighViolinW, 0.3),
  grp(2, bluStyle, f3LowVals, f3LowBox, 0.02, 0.38, f3LowViolinY, f3LowViolinW, 0.3)]);

// ---------- responder dot plots (G, H left)
const swarmPlugin = {
  id: 'swarm',
  afterDatasetsDraw(chart, args, o) {
    const {ctx} = chart, x = chart.scales.x, y = chart.scales.y;
    ctx.save();
    ctx.lineWidth = 2;
    o.med.forEach((v, i) => {
      ctx.strokeStyle = o.medCol[i];
      ctx.beginPath(); ctx.moveTo(x.getPixelForValue(i + 1 - o.mw), y.getPixelForValue(v)); ctx.lineTo(x.getPixelForValue(i + 1 + o.mw), y.getPixelForValue(v)); ctx.stroke();
    });
    const ly = y.getPixelForValue(o.sigY), x0 = x.getPixelForValue(o.sigX[0]), x1 = x.getPixelForValue(o.sigX[1]);
    ctx.strokeStyle = '#555'; ctx.lineWidth = 2;
    ctx.beginPath(); ctx.moveTo(x0, ly); ctx.lineTo(x1, ly); ctx.stroke();
    ctx.fillStyle = '#000'; ctx.font = 'bold 22px ' + FONT; ctx.textAlign = 'center'; ctx.textBaseline = 'middle';
    ctx.fillText(o.star, (x0 + x1) / 2, ly - 4);
    ctx.restore();
  }
};

function swarmChart(area, m, xr, yr, yTicks, resp, non, jw, opts) {
  const ds = (vals, c, col, w) => ({data: vals.map((v, i) => ({x: c + jit(i) * w, y: v})), pointRadius: 2, pointBackgroundColor: col, pointBorderWidth: 0});
  return mk(area, m, {
    type: 'scatter',
    data: {datasets: [ds(resp, 1, '#B01E23', jw[0]), ds(non, 2, '#27A127', jw[1])]},
    options: {
      scales: {
        x: {type: 'linear', min: xr[0], max: xr[1], afterBuildTicks: fixTicks([1, 2]), grid: tickGrid('#000'), border: border('#000', 1.3),
            ticks: {autoSkip: false, minRotation: 25, maxRotation: 25, padding: 1, color: '#000', font: {size: 12.5, weight: 'bold'}, callback: v => respLabels[v - 1]}},
        y: {type: 'linear', min: yr[0], max: yr[1], afterBuildTicks: fixTicks(yTicks), grid: tickGrid('#000'), border: border('#000', 1.3),
            ticks: {autoSkip: false, padding: 2, color: '#000', font: {size: 11, weight: 'bold'}},
            title: {display: true, text: 'Risk score', color: '#000', font: {size: 16, weight: 'bold'}, padding: {top: 0, bottom: 2}}}
      },
      plugins: {swarm: opts}
    },
    plugins: [swarmPlugin]
  });
}

swarmChart([29, 767, 128, 846], {axW: 29, axH: 55, pt: 17, pr: 4}, [0.38, 2.58], [1, 3], [1, 2, 3], gResp, gNonResp, [0.33, 0.42],
  {med: gMedians, medCol: ['#C0272D', '#1c8c1c'], mw: 0.33, sigY: 2.86, sigX: [1.02, 2.0], star: '**'});
swarmChart([450, 767, 543, 843], {axW: 35, axH: 58, pt: 17, pr: 4}, [0.25, 2.75], [0, 2.53], [0, 1, 2], hResp, hNonResp, [0.33, 0.45],
  {med: hMedians, medCol: ['#C0272D', '#1c8c1c'], mw: 0.39, sigY: 2.2, sigX: [0.97, 2.05], star: '*'});

// ---------- Kaplan-Meier (G, H middle)
function kmChart(area, m, xMax, xTicks, curves) {
  const datasets = curves.map(c => ({
    data: c.pts.map(p => ({x: p[0], y: p[1]})), stepped: 'after', borderColor: c.col, borderWidth: c.w,
    borderDash: c.dash || [], pointRadius: 0, fill: false, clip: false
  }));
  return mk(area, m, {
    type: 'line',
    data: {datasets},
    options: {
      scales: {
        x: {type: 'linear', min: 0, max: xMax, afterBuildTicks: fixTicks(xTicks), grid: tickGrid('#000'), border: border('#000', 1.2),
            ticks: {autoSkip: false, maxRotation: 0, padding: 0, color: '#000', font: {size: 8, weight: 'bold'}},
            title: {display: true, text: 'Survival time (Years)', color: '#111', font: {size: 9, weight: 'bold'}, padding: {top: 0, bottom: 0}}},
        y: {type: 'linear', min: 0, max: 100, afterBuildTicks: fixTicks(kmTicksY), grid: tickGrid('#000'), border: border('#000', 1.2),
            ticks: {autoSkip: false, padding: 1, color: '#000', font: {size: 8, weight: 'bold'}},
            title: {display: true, text: 'Overall survival rate (%)', color: '#111', font: {size: 8.5, weight: 'bold'}, padding: {top: 0, bottom: 1}}}
      }
    }
  });
}

const ciG = 'rgba(40,150,40,0.5)', ciR = 'rgba(255,70,70,0.5)';
kmChart([162, 767, 263, 873], {axW: 26, axH: 28, pt: 10, pr: 6}, 2, [0, 1, 2], [
  {pts: g2LowUp, col: ciG, w: 0.8, dash: [2, 1.5]}, {pts: g2LowDn, col: ciG, w: 0.8, dash: [2, 1.5]},
  {pts: g2HighUp, col: ciR, w: 0.8, dash: [2, 1.5]}, {pts: g2HighDn, col: ciR, w: 0.8, dash: [2, 1.5]},
  {pts: g2Low, col: '#1e961e', w: 2.6}, {pts: g2High, col: '#ff2020', w: 2.6}]);
kmChart([570, 767, 666, 871], {axW: 25, axH: 30, pt: 10, pr: 6}, 3.2, [0, 1, 2, 3], [
  {pts: h2LowUp, col: ciG, w: 0.8, dash: [2, 1.5]}, {pts: h2LowDn, col: ciG, w: 0.8, dash: [2, 1.5]},
  {pts: h2HighUp, col: ciR, w: 0.8, dash: [2, 1.5]}, {pts: h2HighDn, col: ciR, w: 0.8, dash: [2, 1.5]},
  {pts: h2Low, col: '#1e961e', w: 2.6}, {pts: h2High, col: '#ff2020', w: 2.6}]);

// ---------- stacked response bars (G, H right)
const stackPlugin = {
  id: 'stack',
  afterDatasetsDraw(chart, args, o) {
    const {ctx, chartArea: ca} = chart, x = chart.scales.x, y = chart.scales.y;
    ctx.save();
    ctx.strokeStyle = '#555'; ctx.lineWidth = 1;
    ctx.strokeRect(ca.left + 0.5, ca.top + 0.5, ca.width - 1, ca.height - 1);
    ctx.fillStyle = '#000'; ctx.font = '13px ' + FONT; ctx.textAlign = 'center'; ctx.textBaseline = 'middle';
    chart.data.datasets.forEach((ds, di) => {
      chart.getDatasetMeta(di).data.forEach((el, i) => ctx.fillText(ds.data[i].toFixed(1) + '%', el.x, (el.y + el.base) / 2));
    });
    const ly = y.getPixelForValue(o.sigY), x0 = x.getPixelForValue(0), x1 = x.getPixelForValue(1);
    ctx.strokeStyle = '#666'; ctx.lineWidth = 1.2;
    ctx.beginPath(); ctx.moveTo(x0, ly); ctx.lineTo(x1, ly); ctx.stroke();
    ctx.font = 'bold 17px ' + FONT;
    ctx.fillText('*', (x0 + x1) / 2, ly + 1);
    ctx.restore();
  }
};

function stackChart(area, m, yMax, resp, non, sigY) {
  return mk(area, m, {
    type: 'bar',
    data: {labels: groupLabels, datasets: [
      {data: non, backgroundColor: '#108A10', borderWidth: 0, categoryPercentage: 0.73, barPercentage: 1},
      {data: resp, backgroundColor: '#A00C0C', borderWidth: 0, categoryPercentage: 0.73, barPercentage: 1}]},
    options: {
      scales: {
        x: {type: 'category', stacked: true, grid: {display: false, drawTicks: false}, border: {display: false},
            ticks: {autoSkip: false, maxRotation: 0, padding: 3, color: '#000', font: {size: 14}}},
        y: {type: 'linear', stacked: true, min: 0, max: yMax, display: false}
      },
      plugins: {stack: {sigY}}
    },
    plugins: [stackPlugin]
  });
}

stackChart([277, 770, 392, 883], {axW: 0, axH: 18, pt: 2, pr: 2}, 112, gRespPct, gNonPct, 103);
stackChart([678, 775, 790, 882], {axW: 0, axH: 19, pt: 2, pr: 2}, 108, hRespPct, hNonPct, 106.5);
</script>
</body>
</html>
